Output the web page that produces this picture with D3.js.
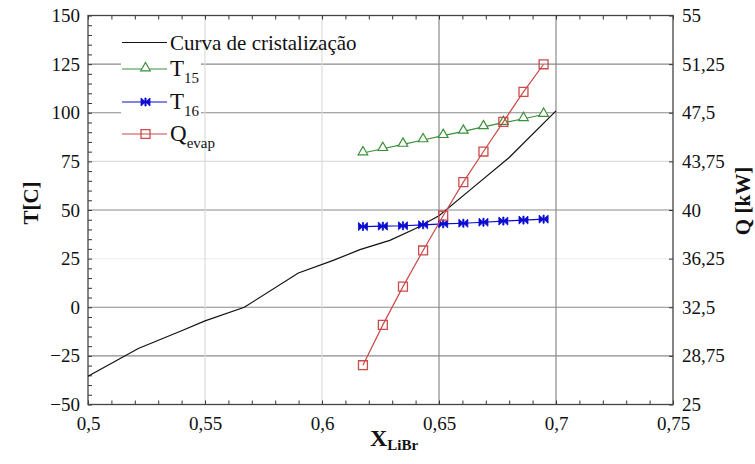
<!DOCTYPE html>
<html><head><meta charset="utf-8">
<script src="https://cdn.jsdelivr.net/npm/d3@7"></script>
<style>body{margin:0;background:#fff}svg{display:block}text{font-family:"Liberation Serif","Times New Roman",serif}</style>
</head><body>
<svg id="c" width="755" height="464"></svg>
<script>
// ---- data ----
const xTicks = [0.5, 0.55, 0.6, 0.65, 0.7, 0.75];
const xTickLabels = ["0,5", "0,55", "0,6", "0,65", "0,7", "0,75"];
const tTicks = [-50, -25, 0, 25, 50, 75, 100, 125, 150];
const qTicks = [25, 28.75, 32.5, 36.25, 40, 43.75, 47.5, 51.25, 55];
const qTickLabels = ["25", "28,75", "32,5", "36,25", "40", "43,75", "47,5", "51,25", "55"];

const crystX = [0.5, 0.5215, 0.540, 0.550, 0.5668, 0.5899, 0.6048, 0.6162, 0.629, 0.64, 0.65, 0.665, 0.68, 0.7];
const crystT = [-35.5, -21.2, -12.1, -7, 0, 17.6, 24.1, 29.6, 34.4, 40.5, 47, 62, 77, 101];

const xs = [0.6175, 0.626, 0.6346, 0.6432, 0.6518, 0.6604, 0.669, 0.6775, 0.6861, 0.6947];
const t15 = [79.3, 81.5, 83.7, 86.0, 88.2, 90.4, 92.7, 94.9, 96.9, 99.1];
const t16 = [41.5, 41.7, 41.9, 42.4, 42.9, 43.2, 43.7, 44.3, 44.8, 45.3];
const qEvap = [28.03, 31.14, 34.09, 36.88, 39.56, 42.15, 44.51, 46.80, 49.11, 51.24];

// ---- layout ----
const svg = d3.select("#c");
const L = 88, R = 673, T = 15.5, B = 404.5;
const x = d3.scaleLinear([0.5, 0.75], [L, R]);
const yT = d3.scaleLinear([-50, 150], [B, T]);
const yQ = d3.scaleLinear([25, 55], [B, T]);

const dark = "#8a8a8a", light = "#dcdcdc", faint = "#f0f0f0";
const hGridStyle = {"125": dark, "100": dark, "75": light, "50": dark, "25": faint, "0": dark, "-25": dark};
const vGridStyle = {"0.55": light, "0.6": light, "0.65": dark, "0.7": dark};

const grid = svg.append("g");
tTicks.filter(v => hGridStyle[String(v)]).forEach(v => {
  grid.append("line").attr("x1", L).attr("x2", R).attr("y1", yT(v)).attr("y2", yT(v))
    .attr("stroke", hGridStyle[String(v)]).attr("stroke-width", 1.2);
});
xTicks.filter(v => vGridStyle[String(v)]).forEach(v => {
  grid.append("line").attr("y1", T).attr("y2", B).attr("x1", x(v)).attr("x2", x(v))
    .attr("stroke", vGridStyle[String(v)]).attr("stroke-width", 1.2);
});

// ---- axes ----
const fs = "19px";
function styleAxis(g) {
  g.select(".domain").remove();
  g.selectAll(".tick line").attr("stroke", "#333");
  g.selectAll("text").attr("font-size", fs).attr("fill", "#111")
    .attr("font-family", '"Liberation Serif",serif');
}
const minorX = d3.range(50, 76, 1).map(v => v / 100);
const minorT = d3.range(-50, 151, 5);
svg.append("g").attr("transform", `translate(0,${B})`)
  .call(d3.axisBottom(x).tickValues(minorX).tickSize(-4).tickFormat(""))
  .call(styleAxis);
svg.append("g").attr("transform", `translate(0,${T})`)
  .call(d3.axisTop(x).tickValues(minorX).tickSize(-4).tickFormat(""))
  .call(styleAxis);
svg.append("g").attr("transform", `translate(0,${B})`)
  .call(d3.axisBottom(x).tickValues(xTicks).tickSize(0).tickPadding(12)
    .tickFormat((d, i) => xTickLabels[i]))
  .call(styleAxis);
svg.append("g").attr("transform", `translate(${L},0)`)
  .call(d3.axisLeft(yT).tickValues(minorT).tickSize(-4).tickFormat(""))
  .call(styleAxis);
svg.append("g").attr("transform", `translate(${L},0)`)
  .call(d3.axisLeft(yT).tickValues(tTicks).tickSize(0).tickPadding(8).tickFormat(d3.format("d")))
  .call(styleAxis);
svg.append("g").attr("transform", `translate(${R},0)`)
  .call(d3.axisRight(yQ).tickValues(qTicks).tickSize(-4).tickPadding(9)
    .tickFormat((d, i) => qTickLabels[i]))
  .call(styleAxis);

// frame
svg.append("rect").attr("x", L).attr("y", T).attr("width", R - L).attr("height", B - T)
  .attr("fill", "none").attr("stroke", "#444").attr("stroke-width", 1.3);

// ---- series ----
const green = "#3a8f3a", blue = "#0a0ad0", red = "#cc4a4a";
const lineT = d3.line().x(d => x(d[0])).y(d => yT(d[1]));
const lineQ = d3.line().x(d => x(d[0])).y(d => yQ(d[1]));

svg.append("path").attr("d", lineT(crystX.map((v, i) => [v, crystT[i]])))
  .attr("fill", "none").attr("stroke", "#111").attr("stroke-width", 1.2);

const tri = d3.symbol().type(d3.symbolTriangle).size(40);
const sq = d3.symbol().type(d3.symbolSquare).size(80);
const bowtie = "M-4.5,-4 L0,0 L-4.5,4 Z M4.5,-4 L0,0 L4.5,4 Z M-0.6,-4 L0.6,-4 L0.6,4 L-0.6,4 Z";

function drawTri(g, cx, cy) {
  g.append("path").attr("d", tri()).attr("transform", `translate(${cx},${cy - 1})`)
    .attr("fill", "#fff").attr("stroke", green).attr("stroke-width", 1.2);
}
function drawSq(g, cx, cy) {
  g.append("path").attr("d", sq()).attr("transform", `translate(${cx},${cy})`)
    .attr("fill", "none").attr("stroke", red).attr("stroke-width", 1.3);
}
function drawBow(g, cx, cy) {
  g.append("path").attr("d", bowtie).attr("transform", `translate(${cx},${cy})`)
    .attr("fill", blue).attr("stroke", blue).attr("stroke-width", 0.8);
}

const g15 = svg.append("g");
g15.append("path").attr("d", lineT(xs.map((v, i) => [v, t15[i]])))
  .attr("fill", "none").attr("stroke", green).attr("stroke-width", 1.2);
xs.forEach((v, i) => drawTri(g15, x(v), yT(t15[i])));

const g16 = svg.append("g");
g16.append("path").attr("d", lineT(xs.map((v, i) => [v, t16[i]])))
  .attr("fill", "none").attr("stroke", blue).attr("stroke-width", 1.2);
xs.forEach((v, i) => drawBow(g16, x(v), yT(t16[i])));

const gq = svg.append("g");
gq.append("path").attr("d", lineQ(xs.map((v, i) => [v, qEvap[i]])))
  .attr("fill", "none").attr("stroke", red).attr("stroke-width", 1.2);
xs.forEach((v, i) => drawSq(gq, x(v), yQ(qEvap[i])));

// ---- legend ----
const lg = svg.append("g");
lg.append("rect").attr("x", 121).attr("y", 30).attr("width", 80).attr("height", 120).attr("fill", "#fff");
const rows = [
  {y: 42.5, color: "#111", mark: null, main: "Curva de cristalização", sub: ""},
  {y: 69, color: green, mark: drawTri, main: "T", sub: "15"},
  {y: 102, color: blue, mark: drawBow, main: "T", sub: "16"},
  {y: 134, color: red, mark: drawSq, main: "Q", sub: "evap"}
];
rows.forEach(r => {
  lg.append("line").attr("x1", 122).attr("x2", 167).attr("y1", r.y).attr("y2", r.y)
    .attr("stroke", r.color).attr("stroke-width", 1.2);
  if (r.mark) r.mark(lg, 145.5, r.y);
  const t = lg.append("text").attr("x", 170).attr("y", r.y + 7).attr("fill", "#111")
    .attr("font-size", r.sub ? "23px" : "21px");
  t.append("tspan").text(r.main);
  if (r.sub) t.append("tspan").attr("font-size", "15px").attr("dy", 7).text(r.sub);
});

// ---- axis titles ----
svg.append("text").attr("transform", "translate(38,203) rotate(-90)")
  .attr("text-anchor", "middle").attr("font-weight", "bold").attr("font-size", "21px")
  .attr("fill", "#111").text("T[C]");
svg.append("text").attr("transform", "translate(750,201) rotate(-90)")
  .attr("text-anchor", "middle").attr("font-weight", "bold").attr("font-size", "21px")
  .attr("fill", "#111").text("Q  [kW]");
const xt = svg.append("text").attr("x", 394).attr("y", 446).attr("text-anchor", "middle")
  .attr("font-weight", "bold").attr("fill", "#111");
xt.append("tspan").attr("font-size", "24px").text("X");
xt.append("tspan").attr("font-size", "15px").attr("dy", 4).text("LiBr");
</script>
</body></html>
